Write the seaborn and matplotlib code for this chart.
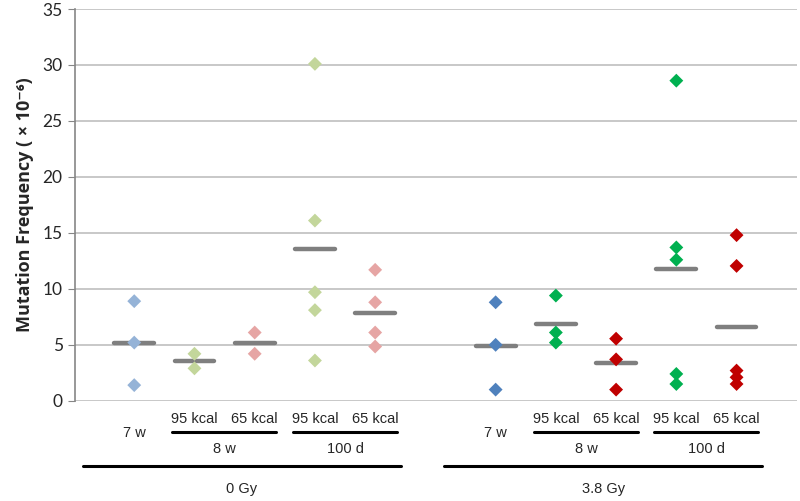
import numpy as np
import pandas as pd
import seaborn as sns
import matplotlib.pyplot as plt
import matplotlib.transforms as mtransforms

# groups, left to right
dose = ['0 Gy'] * 5 + ['3.8 Gy'] * 5
age = ['7 w', '8 w', '8 w', '100 d', '100 d'] * 2
diet = ['', '95 kcal', '65 kcal', '95 kcal', '65 kcal'] * 2
pos = [0, 1, 2, 3, 4, 6, 7, 8, 9, 10]

# mutation frequency values (x 10^-6), one list per group
vals = [
    [8.9, 5.2, 1.4],
    [4.2, 2.9],
    [6.1, 4.2],
    [30.1, 16.1, 9.7, 8.1, 3.6],
    [11.7, 8.8, 6.1, 4.85],
    [8.8, 5.0, 1.0],
    [9.4, 6.1, 5.2],
    [5.55, 3.7, 1.0],
    [28.6, 13.7, 12.6, 2.4, 1.5],
    [14.8, 12.05, 2.7, 2.1, 1.5],
]

colors = {'0 Gy|7 w': '#95B3D7', '0 Gy|95 kcal': '#C3D69B', '0 Gy|65 kcal': '#E6A5A4',
          '3.8 Gy|7 w': '#4F81BD', '3.8 Gy|95 kcal': '#00B050', '3.8 Gy|65 kcal': '#C00000'}

rows = []
for i in range(10):
    key = dose[i] + '|' + (diet[i] if diet[i] else age[i])
    for v in vals[i]:
        rows.append({'pos': pos[i], 'value': v, 'key': key})
df = pd.DataFrame(rows)

sns.set_style('white')
plt.rcParams['font.family'] = ['Liberation Sans', 'DejaVu Sans']

fig = plt.figure(figsize=(8, 5.01), dpi=100)
ax = fig.add_axes([0.094, 0.2, 0.902, 0.782])

ax.yaxis.grid(True, color='#BFBFBF', linewidth=1.2)
ax.set_axisbelow(True)

sns.scatterplot(data=df, x='pos', y='value', hue='key', palette=colors, marker='D',
                s=50, edgecolor='none', legend=False, ax=ax, zorder=3)

means = df.groupby('pos')['value'].mean()
ax.hlines(means.values, means.index - 0.33, means.index + 0.33, color='#7F7F7F',
          linewidth=3.2, capstyle='round', zorder=2)

ax.set_xlim(-0.98, 11)
ax.set_ylim(0, 35)
ax.set_yticks(range(0, 36, 5))
ax.set_xticks([])
ax.set_xlabel('')
ax.set_ylabel('Mutation Frequency ( × 10⁻⁶)', fontsize=13, fontweight='bold', labelpad=6,
              family=['Open Sans', 'DejaVu Sans'])
for lab in ax.get_yticklabels():
    lab.set_family('Lato')
ax.tick_params(axis='y', left=True, length=5, color='#868686', labelsize=12.5,
               labelcolor='#262626', pad=4)

for s in ['top', 'right', 'bottom']:
    ax.spines[s].set_visible(False)
ax.spines['left'].set_color('#868686')
ax.spines['left'].set_linewidth(1.2)

trans = mtransforms.blended_transform_factory(ax.transData, ax.transAxes)
kw = dict(transform=trans, ha='center', va='center', fontsize=10.5, clip_on=False)

for i in range(10):
    if diet[i]:
        ax.text(pos[i], -0.046, diet[i], **kw)
    else:
        ax.text(pos[i], -0.082, age[i], **kw)

# brackets for age groups
for d in ['0 Gy', '3.8 Gy']:
    for a in ['8 w', '100 d']:
        idx = [i for i in range(10) if dose[i] == d and age[i] == a]
        x0, x1 = pos[idx[0]] - 0.37, pos[idx[-1]] + 0.36
        ax.plot([x0, x1], [-0.079, -0.079], color='black', linewidth=2.2,
                transform=trans, clip_on=False)
        ax.text((pos[idx[0]] + pos[idx[-1]]) / 2, -0.122, a, **kw)
    idx = [i for i in range(10) if dose[i] == d]
    x0, x1 = pos[idx[0]] - 0.85, pos[idx[-1]] + 0.43
    ax.plot([x0, x1], [-0.166, -0.166], color='black', linewidth=2.2,
            transform=trans, clip_on=False)
    ax.text((x0 + x1) / 2, -0.224, d, **kw)

fig.savefig('out.png', dpi=100)
